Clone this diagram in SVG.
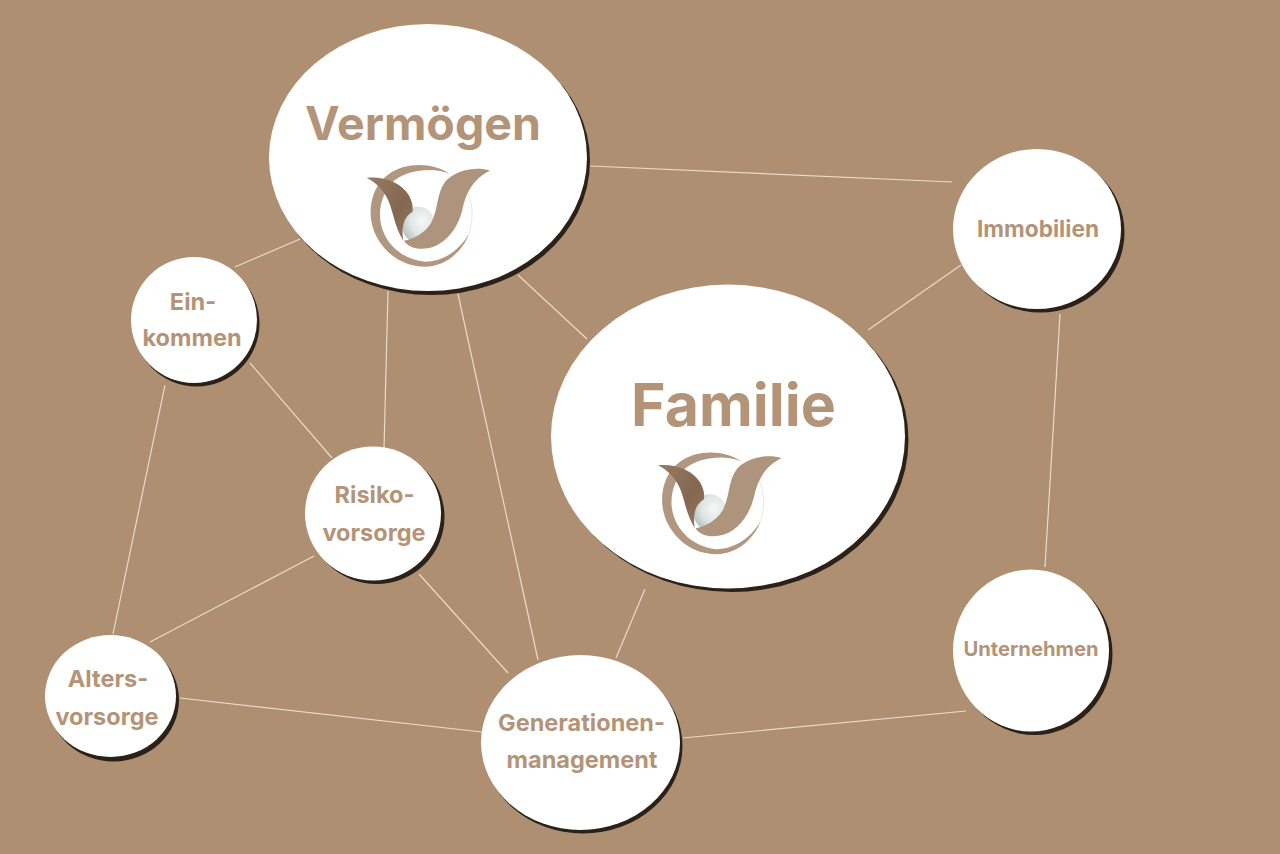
<svg xmlns="http://www.w3.org/2000/svg" width="1280" height="854" viewBox="0 0 1280 854">
<style>
.line{stroke:#e8dcc6;stroke-width:1.2;fill:none}
.shadow{fill:#2b2118}
.disc{fill:#fff}
text{font-family:"Inter","Liberation Sans",sans-serif;font-weight:700;fill:#b39478;text-anchor:middle}
.small{font-size:23.5px}
</style>
<defs>
<radialGradient id="pearl" cx="0.62" cy="0.4" r="0.75">
<stop offset="0" stop-color="#f6f8f7"/><stop offset="0.5" stop-color="#dfe6e4"/><stop offset="1" stop-color="#aab5b2"/>
</radialGradient>
<linearGradient id="dark" x1="0" y1="0" x2="1" y2="1">
<stop offset="0" stop-color="#967b64"/><stop offset="0.6" stop-color="#846750"/><stop offset="1" stop-color="#967a63"/>
</linearGradient>
<g id="logo">
<path fill="#b1977f" d="M300,72C250,38 170,35 120,70C75,100 60,150 62,195C65,270 130,350 225,350C290,350 340,300 358,250C330,300 280,335 225,335C160,330 95,280 90,200C88,160 105,115 135,90C175,60 250,50 300,72Z"/>
<path fill="none" stroke="#e2d9d0" stroke-width="2" d="M352,125C372,170 368,215 358,250"/>
<ellipse cx="205" cy="224" rx="50" ry="54" fill="url(#pearl)"/>
<path fill="url(#dark)" d="M50,83C105,78 155,100 176,135C187,155 190,170 187,186C165,198 152,225 160,272C130,225 130,175 108,138C93,112 75,97 50,83Z"/>
<path fill="#ae947c" d="M420,62C382,50 325,57 288,92C258,130 268,170 243,220C222,252 190,268 162,272C175,292 200,299 232,295C282,287 322,240 337,180C347,130 370,85 420,62Z"/>
</g>
</defs>
<rect width="1280" height="854" fill="#af8f72"/>
<g id="connectors">
<line class="line" x1="590" y1="166" x2="952" y2="182"/>
<line class="line" x1="235" y1="267" x2="300" y2="239"/>
<line class="line" x1="518" y1="275" x2="587" y2="339"/>
<line class="line" x1="388" y1="291" x2="384" y2="449"/>
<line class="line" x1="458" y1="294" x2="538" y2="660"/>
<line class="line" x1="868" y1="330" x2="961" y2="265"/>
<line class="line" x1="1060" y1="314" x2="1045" y2="567"/>
<line class="line" x1="250" y1="363" x2="332" y2="458"/>
<line class="line" x1="165" y1="385" x2="113" y2="634"/>
<line class="line" x1="150" y1="642" x2="314" y2="556"/>
<line class="line" x1="419" y1="574" x2="508" y2="673"/>
<line class="line" x1="645" y1="589" x2="616" y2="658"/>
<line class="line" x1="180" y1="698" x2="482" y2="732"/>
<line class="line" x1="683" y1="738" x2="966" y2="711"/>
</g>
<g id="verm">
<ellipse class="shadow" cx="431" cy="161" rx="159" ry="134"/>
<ellipse class="disc" cx="428" cy="157.500" rx="159" ry="133.500"/>
<text x="423" y="140" font-size="46.500">Vermögen</text>
<use href="#logo" transform="translate(350,150) scale(0.3333)"/>
</g>
<g id="familie">
<ellipse class="shadow" cx="731.500" cy="440" rx="177" ry="152"/>
<ellipse class="disc" cx="728" cy="436.500" rx="177" ry="152"/>
<text x="733.500" y="426" font-size="59">Familie</text>
<use href="#logo" transform="translate(641.500,437.500) scale(0.3333)"/>
</g>
<g id="immobilien">
<ellipse class="shadow" cx="1040.500" cy="232.500" rx="84" ry="80"/>
<ellipse class="disc" cx="1037" cy="229" rx="84" ry="80"/>
<text x="1038" y="237" font-size="22.700">Immobilien</text>
</g>
<g id="einkommen">
<ellipse class="shadow" cx="196.500" cy="323.500" rx="63" ry="63"/>
<ellipse class="disc" cx="194" cy="320" rx="63" ry="63"/>
<text class="small" x="193" y="310">Ein-</text>
<text class="small" x="192" y="346">kommen</text>
</g>
<g id="risiko">
<ellipse class="shadow" cx="376.500" cy="517" rx="68" ry="67"/>
<ellipse class="disc" cx="373" cy="513.500" rx="68" ry="67"/>
<text class="small" x="374.500" y="503">Risiko-</text>
<text class="small" x="374" y="541">vorsorge</text>
</g>
<g id="alters">
<ellipse class="shadow" cx="113.500" cy="700" rx="65.500" ry="61.500"/>
<ellipse class="disc" cx="110.500" cy="696" rx="65.500" ry="61"/>
<text class="small" x="108" y="687">Alters-</text>
<text class="small" x="107" y="725">vorsorge</text>
</g>
<g id="generationen">
<ellipse class="shadow" cx="583" cy="746" rx="99.500" ry="87.500"/>
<ellipse class="disc" cx="580.500" cy="742.500" rx="99.500" ry="87.500"/>
<text class="small" x="581.500" y="731">Generationen-</text>
<text class="small" x="582" y="768">management</text>
</g>
<g id="unternehmen">
<ellipse class="shadow" cx="1034.500" cy="654" rx="78" ry="81"/>
<ellipse class="disc" cx="1031" cy="650.500" rx="78" ry="81"/>
<text x="1031" y="656" font-size="20.200">Unternehmen</text>
</g>
</svg>
